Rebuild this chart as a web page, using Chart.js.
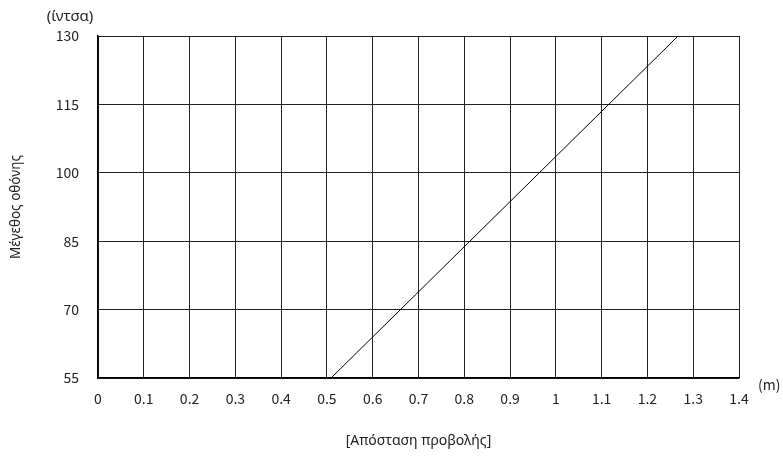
<!DOCTYPE html>
<html>
<head>
<meta charset="utf-8">
<script src="https://cdn.jsdelivr.net/npm/chart.js@4"></script>
<style>
  html, body { margin: 0; padding: 0; background: #fff; }
  #wrap { width: 783px; height: 458px; }
</style>
</head>
<body>
<div id="wrap"><canvas id="chart"></canvas></div>
<script>
const xTicks = [0, 0.1, 0.2, 0.3, 0.4, 0.5, 0.6, 0.7, 0.8, 0.9, 1, 1.1, 1.2, 1.3, 1.4];
const yTicks = [55, 70, 85, 100, 115, 130];
const distance = [0.509, 1.267];
const screenSize = [55, 130];

const FONT = "'Noto Sans CJK JP', 'Noto Sans', sans-serif";
// greek text: narrow face so the tonos shows
const GREEK = "'Liberation Sans Narrow', 'Noto Sans', sans-serif";

const unitLabels = {
    id: "unitLabels",
    afterDraw(chart) {
        const ctx = chart.ctx;
        const area = chart.chartArea;
        ctx.save();
        ctx.fillStyle = "#222";
        ctx.textBaseline = "middle";
        ctx.textAlign = "center";
        ctx.font = "15px " + GREEK;
        ctx.fillText("(ίντσα)", 70, 17);
        ctx.textAlign = "left";
        ctx.font = "14px " + FONT;
        ctx.fillText("(m)", area.right + 19, area.bottom + 7);
        ctx.restore();
    }
};

const data = {
    datasets: [
        {
            data: distance.map((d, i) => ({ x: d, y: screenSize[i] })),
            showLine: true,
            borderColor: "#000",
            borderWidth: 1,
            pointRadius: 0,
            fill: false,
        },
    ],
};

const config = {
    type: "scatter",
    data: data,
    options: {
        responsive: true,
        maintainAspectRatio: false,
        animation: false,
        layout: { padding: { top: 36, right: 44, left: 0, bottom: 0 } },
        plugins: { legend: { display: false }, tooltip: { enabled: false } },
        scales: {
            x: {
                type: "linear",
                min: 0,
                max: 1.4,
                afterBuildTicks: (scale) => { scale.ticks = xTicks.map(v => ({ value: v })); },
                afterFit: (scale) => { scale.height = 80; },
                grid: { color: "#222", lineWidth: 1, drawTicks: false },
                border: { color: "#000", width: 1.5 },
                ticks: {
                    padding: 12,
                    color: "#222",
                    font: { family: FONT, size: 14 },
                    callback: (v) => String(Math.round(v * 10) / 10),
                },
                title: {
                    display: true,
                    text: "[Απόσταση προβολής]",
                    color: "#222",
                    font: { family: GREEK, size: 14 },
                    padding: { top: 0, bottom: 9 },
                },
            },
            y: {
                type: "linear",
                min: 55,
                max: 130,
                afterBuildTicks: (scale) => { scale.ticks = yTicks.map(v => ({ value: v })); },
                afterFit: (scale) => { scale.width = 98; },
                grid: { color: "#222", lineWidth: 1, drawTicks: false },
                border: { color: "#000", width: 1.5 },
                ticks: {
                    padding: 19,
                    color: "#222",
                    font: { family: FONT, size: 14 },
                },
                title: {
                    display: true,
                    text: "Μέγεθος οθόνης",
                    color: "#222",
                    font: { family: GREEK, size: 13.5 },
                    padding: { top: 8, bottom: 0 },
                },
            },
        },
    },
    plugins: [unitLabels],
};

const myChart = new Chart(document.getElementById("chart"), config);
</script>
</body>
</html>
